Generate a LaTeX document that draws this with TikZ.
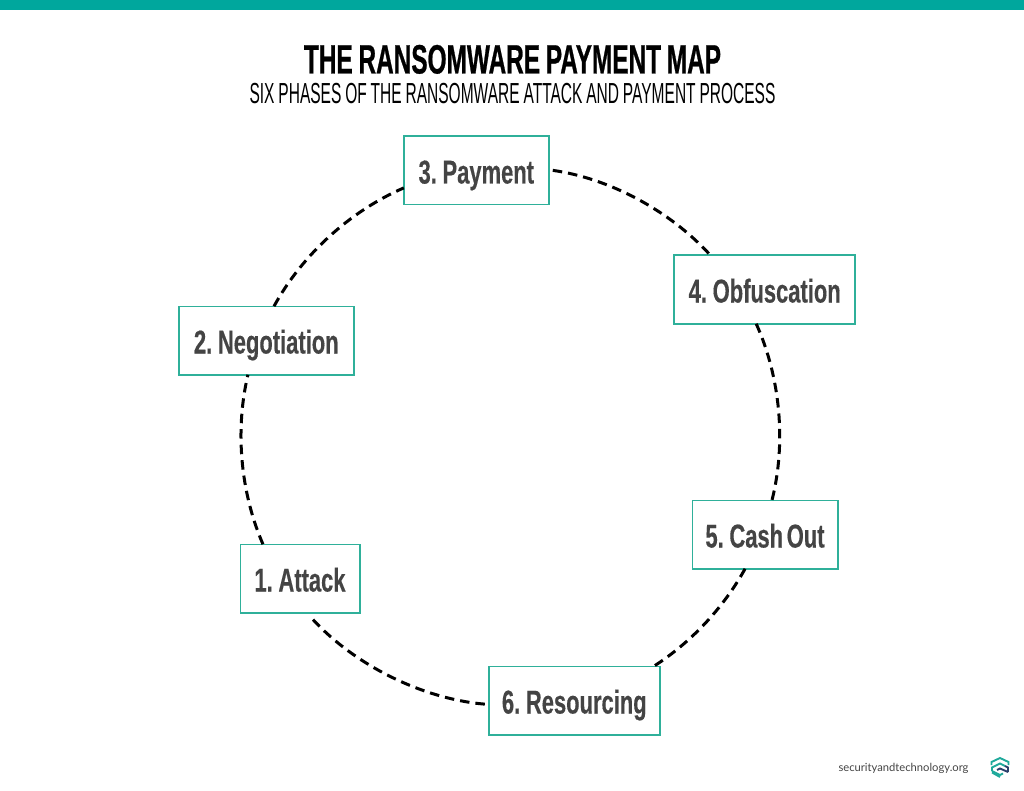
\documentclass[tikz,border=0pt]{standalone}
\usepackage{fontspec}
\setmainfont{Liberation Sans}
\newfontfamily\titlefont[FakeStretch=0.595,FakeBold=0.6,WordSpace=0.85]{Liberation Sans Bold}
\newfontfamily\subfont[FakeStretch=0.535,WordSpace=0.9]{Liberation Sans}
\newfontfamily\labelfont[FakeStretch=0.665,FakeBold=0.3,WordSpace=0.6]{Liberation Sans Bold}
\newfontfamily\footfont{Lato}
\usetikzlibrary{calc}
\definecolor{bar}{HTML}{00A79D}
\definecolor{edge}{HTML}{2FB09A}
\definecolor{ink}{HTML}{444444}
\definecolor{logoa}{HTML}{1FA99B}
\definecolor{logob}{HTML}{2B3F6B}
\tikzset{
  phase/.style={draw=edge,line width=1.5pt,fill=white,inner sep=0pt,outer sep=0pt,anchor=center,
    text height=26pt,text depth=0pt,minimum height=68.5pt,
    text=ink,font=\labelfont\fontsize{33}{33}\selectfont},
  link/.style={draw=black,line width=3pt,dash pattern=on 9.5pt off 6pt,looseness=0.85}
}
\begin{document}
\begin{tikzpicture}[x=1pt,y=-1pt]
\useasboundingbox (0,0) rectangle (1024,791);
\fill[white] (0,0) rectangle (1024,791);
\fill[bar] (0,0) rectangle (1024,10);
\node (title) at (512.5,73.5) [anchor=base,inner sep=0pt,font=\titlefont\fontsize{41}{41}\selectfont] {THE RANSOMWARE PAYMENT MAP};
\node (sub) at (512.5,104) [anchor=base,inner sep=0pt,font=\subfont\fontsize{29}{29}\selectfont] {SIX PHASES OF THE RANSOMWARE ATTACK AND PAYMENT PROCESS};
\node[phase,minimum width=119.5pt] (n1) at (300,578.5) {1. Attack};
\node[phase,minimum width=175pt] (n2) at (266.3,340.5) {2. Negotiation};
\node[phase,minimum width=145pt] (n3) at (476.3,170.5) {3. Payment};
\node[phase,minimum width=181pt] (n4) at (764.7,289.5) {4. Obfuscation};
\node[phase,minimum width=145.5pt] (n5) at (765,534.5) {5. Cash Out};
\node[phase,minimum width=171pt] (n6) at (574.3,700.5) {6. Resourcing};
\draw[link,bend left=18.4] ($(n1.north west)!0.19!(n1.north east)$) to ($(n2.south west)!0.395!(n2.south east)$);
\draw[link,bend left=19] ($(n2.north west)!0.544!(n2.north east)$) to ($(n3.north west)!0.754!(n3.south west)$);
\draw[link,bend left=19.9,shorten <=4pt] ($(n3.north east)!0.49!(n3.south east)$) to ($(n4.north west)!0.2!(n4.north east)$);
\draw[link,bend left=19.2] ($(n4.south west)!0.453!(n4.south east)$) to ($(n5.north west)!0.548!(n5.north east)$);
\draw[link,bend left=14.2] ($(n5.south west)!0.363!(n5.south east)$) to ($(n6.north west)!0.965!(n6.north east)$);
\draw[link,bend left=22,shorten <=4pt,shorten >=4pt] ($(n6.north west)!0.558!(n6.south west)$) to ($(n1.south west)!0.558!(n1.south east)$);
\node (foot) at (903.5,768) [inner sep=0pt,text=ink,font=\footfont\fontsize{11.2}{12}\selectfont] {securityandtechnology.org};
\begin{scope}[line width=1.9pt,join=miter]
\draw[logoa] (991.5,765) -- (991.5,762) -- (1000,758) -- (1008.5,762) -- (1008.5,765);
\draw[logoa] (992,771) -- (992,767.5) -- (1000,763.5) -- (1005,766);
\draw[logob] (1005,766) -- (1008,767.5) -- (1008,772);
\draw[logoa] (992,771) -- (1000,775) -- (1003,773.5);
\draw[logob] (1008,772) -- (1000,768.5) -- (997,770);
\draw[logoa] (992,772.5) -- (1000,777) ;
\end{scope}
\end{tikzpicture}
\end{document}
